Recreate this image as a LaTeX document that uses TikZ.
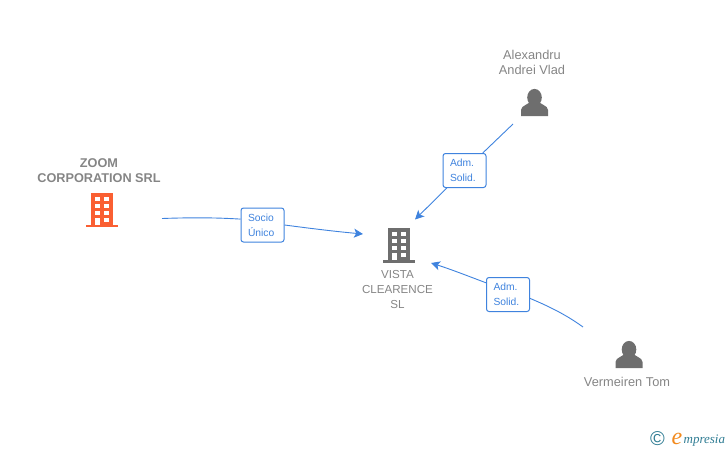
\documentclass[tikz,border=0pt]{standalone}
\usepackage{fontspec}
\setmainfont{Liberation Sans}
\newfontfamily\logofont{Liberation Serif}
\usetikzlibrary{arrows.meta}
\definecolor{linkblue}{HTML}{3F83DE}
\definecolor{labelgray}{HTML}{858585}
\definecolor{icongray}{HTML}{6E6E6E}
\definecolor{iconorange}{HTML}{FA5F32}
\definecolor{logoteal}{HTML}{2F7C93}
\definecolor{logoorange}{HTML}{F28A1E}
\tikzset{
  link/.style={draw=linkblue,line width=.9pt},
  arrowlink/.style={link,-{Stealth[inset=2.2pt,length=9pt,width=9pt]}},
  rolebox/.style={draw=linkblue,line width=1pt,fill=white,rounded corners=2.5pt,
    minimum height=34pt,text width=29pt,inner xsep=7pt,inner ysep=0pt,align=left,
    text=linkblue,font=\fontsize{10.3}{15}\selectfont},
  holdername/.style={text=labelgray,align=center,inner sep=0pt,font=\fontsize{12.8}{15}\selectfont},
  boldname/.style={holdername,font=\fontsize{12.7}{15}\selectfont\bfseries},
  pics/buildingicon/.style={code={
    \fill[#1] (-11,-17) rectangle (11,15);
    \fill[#1] (-16,15) rectangle (16,17.5);
    \foreach \wy in {-13,-6,1,8} \fill[white] (2,\wy) rectangle (7,\wy+4);
    \foreach \wy in {-13,-6,1} \fill[white] (-7,\wy) rectangle (-2,\wy+4);
    \fill[white] (-7,8) rectangle (-2,15);
  }},
  pics/personicon/.style={code={
    \fill[icongray] (0,-5.5) ellipse (7.3 and 8.6);
    \fill[icongray] (-13.5,13) -- (-13.5,7) .. controls (-13.5,2) and (-5,2) .. (-3.5,-3)
      -- (3.5,-3) .. controls (5,2) and (13.5,2) .. (13.5,7) -- (13.5,13) -- cycle;
  }}
}
\begin{document}
\begin{tikzpicture}[x=1pt,y=-1pt]
\useasboundingbox (0,0) rectangle (728,450);
% companies
\node[boldname] (zoomname) at (99,170.5) {ZOOM\\CORPORATION SRL};
\pic at (102,209.5) {buildingicon=iconorange};
\pic at (399,245) {buildingicon=icongray};
\node[holdername,font=\fontsize{11.6}{15}\selectfont] (vistaname) at (397.5,289.5) {VISTA\\CLEARENCE\\SL};
% people
\node[holdername] (alexname) at (532,62.5) {Alexandru\\Andrei Vlad};
\pic at (534.5,103) {personicon};
\pic at (629,355) {personicon};
\node[holdername] (tomname) at (627,381.5) {Vermeiren Tom};
% ends of the links
\coordinate (zoomout) at (162,218.5);
\coordinate (vistaleft) at (363,234);
\coordinate (alexout) at (513,124);
\coordinate (vistatop) at (415,219.5);
\coordinate (tomout) at (583,327);
\coordinate (vistaright) at (431,263);
% labels
\node[rolebox] (socio) at (262.5,225) {Socio\\Único};
\node[rolebox] (admalex) at (464.5,170.5) {Adm.\\Solid.};
\node[rolebox] (admtom) at (508,294.5) {Adm.\\Solid.};
% links
\draw[link] (zoomout) .. controls (190,217.5) and (215,217.5) .. (socio.165);
\draw[arrowlink] (socio.east) .. controls (300,227) and (330,231) .. (vistaleft);
\draw[link] (alexout) -- (admalex);
\draw[arrowlink] (admalex) -- (vistatop);
\draw[link] (tomout) .. controls (565,314) and (548,306) .. (admtom.350);
\draw[arrowlink] (admtom.152) .. controls (468,276) and (450,269) .. (vistaright);
% logo
\node[inner sep=0pt,text=logoteal,font=\fontsize{20}{20}\selectfont] (copysign) at (657.5,439) {©};
\node[inner sep=0pt,text=logoorange,anchor=base,font=\logofont\itshape\fontsize{24}{24}\selectfont] (logoe) at (677,444.5) {e};
\node[inner sep=0pt,text=logoteal,anchor=base west,font=\logofont\itshape\fontsize{13}{13}\selectfont] (logotext) at (683.5,443) {mpresia};
\end{tikzpicture}
\end{document}
